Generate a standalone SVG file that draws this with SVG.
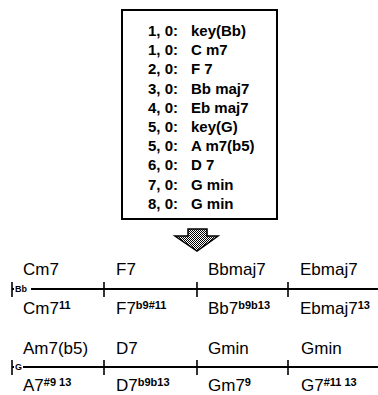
<svg xmlns="http://www.w3.org/2000/svg" width="378" height="395" viewBox="0 0 378 395">
<style>
.lst{font-family:"Liberation Sans",Arial,sans-serif;font-size:15px;font-weight:bold;fill:#000}
.num{text-anchor:end}
.ch{font-family:"Liberation Sans",Arial,sans-serif;font-size:17px;fill:#000}
.sup{font-size:11px;font-weight:bold}
.key{font-family:"Liberation Sans",Arial,sans-serif;font-size:9px;font-weight:bold;fill:#000}
.staff{stroke:#000;stroke-width:2;fill:none}
.tick{stroke:#000;stroke-width:1.6;fill:none}
</style>
<defs>
<pattern id="dither" width="2" height="2" patternUnits="userSpaceOnUse">
<rect width="2" height="2" fill="#fff"/>
<rect width="1" height="1" fill="#000"/>
<rect x="1" y="1" width="1" height="1" fill="#000"/>
</pattern>
</defs>
<rect width="378" height="395" fill="#fff"/>
<g id="event-list">
<rect x="122" y="10" width="155" height="209" fill="#fff" stroke="#000" stroke-width="2"/>
<g class="lst">
<text class="num" x="178" y="36">1, 0:</text><text x="191" y="36">key(Bb)</text>
<text class="num" x="178" y="55.2">1, 0:</text><text x="191" y="55.2">C m7</text>
<text class="num" x="178" y="74.4">2, 0:</text><text x="191" y="74.4">F 7</text>
<text class="num" x="178" y="93.6">3, 0:</text><text x="191" y="93.6">Bb maj7</text>
<text class="num" x="178" y="112.8">4, 0:</text><text x="191" y="112.8">Eb maj7</text>
<text class="num" x="178" y="132">5, 0:</text><text x="191" y="132">key(G)</text>
<text class="num" x="178" y="151.2">5, 0:</text><text x="191" y="151.2">A m7(b5)</text>
<text class="num" x="178" y="170.4">6, 0:</text><text x="191" y="170.4">D 7</text>
<text class="num" x="178" y="189.6">7, 0:</text><text x="191" y="189.6">G min</text>
<text class="num" x="178" y="208.8">8, 0:</text><text x="191" y="208.8">G min</text>
</g>
</g>
<g id="connectors">
<polygon id="arrow" points="188,229 207,229 207,236 218,236 197,251 175,236 188,236" fill="url(#dither)" stroke="#000" stroke-width="1.5" stroke-linejoin="miter"/>
</g>
<g id="row1">
<line class="staff" x1="12" y1="289" x2="378" y2="289"/>
<line class="tick" x1="12" y1="282" x2="12" y2="297"/>
<line class="tick" x1="104" y1="282" x2="104" y2="297"/>
<line class="tick" x1="197" y1="282" x2="197" y2="297"/>
<line class="tick" x1="288" y1="282" x2="288" y2="297"/>
<rect x="14" y="285" width="17" height="8" fill="#fff"/>
<text class="key" x="15" y="292">Bb</text>
<text class="ch" x="23" y="275">Cm7</text>
<text class="ch" x="116" y="275">F7</text>
<text class="ch" x="208" y="275">Bbmaj7</text>
<text class="ch" x="300" y="275">Ebmaj7</text>
<text class="ch" x="23" y="314">Cm7<tspan class="sup" dy="-5">11</tspan></text>
<text class="ch" x="116" y="314">F7<tspan class="sup" dy="-5">b9#11</tspan></text>
<text class="ch" x="208" y="314">Bb7<tspan class="sup" dy="-5">b9b13</tspan></text>
<text class="ch" x="300" y="314">Ebmaj7<tspan class="sup" dy="-5">13</tspan></text>
</g>
<g id="row2">
<line class="staff" x1="12" y1="367" x2="378" y2="367"/>
<line class="tick" x1="12" y1="360" x2="12" y2="375"/>
<line class="tick" x1="104" y1="360" x2="104" y2="375"/>
<line class="tick" x1="197" y1="360" x2="197" y2="375"/>
<line class="tick" x1="288" y1="360" x2="288" y2="375"/>
<rect x="14" y="363" width="9" height="8" fill="#fff"/>
<text class="key" x="15" y="370">G</text>
<text class="ch" x="23" y="354">Am7(b5)</text>
<text class="ch" x="116" y="354">D7</text>
<text class="ch" x="208" y="354">Gmin</text>
<text class="ch" x="301" y="354">Gmin</text>
<text class="ch" x="23" y="391">A7<tspan class="sup" dy="-5">#9 13</tspan></text>
<text class="ch" x="116" y="391">D7<tspan class="sup" dy="-5">b9b13</tspan></text>
<text class="ch" x="208" y="391">Gm7<tspan class="sup" dy="-5">9</tspan></text>
<text class="ch" x="301" y="391">G7<tspan class="sup" dy="-5">#11 13</tspan></text>
</g>
</svg>
